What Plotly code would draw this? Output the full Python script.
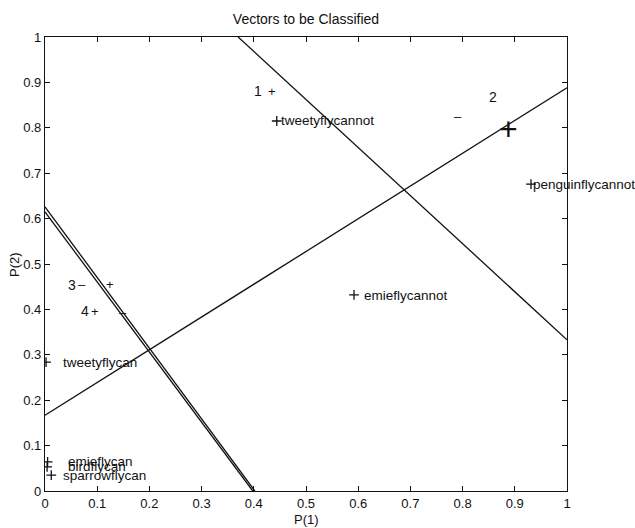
import plotly.graph_objects as go

# Training vectors (P(1), P(2)) and their names
names = ["tweetyflycannot", "penguinflycannot", "emieflycannot", "tweetyflycan",
         "emieflycan", "birdflycan", "sparrowflycan"]
pt_x = [0.444, 0.931, 0.592, 0.002, 0.005, 0.004, 0.012]
pt_y = [0.815, 0.676, 0.432, 0.284, 0.064, 0.053, 0.035]
# where each name is written
lab_x = [0.450, 0.933, 0.609, 0.033, 0.042, 0.042, 0.033]
lab_y = [0.815, 0.676, 0.430, 0.284, 0.064, 0.053, 0.035]

# Decision boundaries: endpoints of each line
bound_x = [[0.37, 1.0], [0.0, 1.0], [0.0, 0.402], [0.0, 0.398]]
bound_y = [[1.0, 0.333], [0.167, 0.888], [0.626, 0.0], [0.615, 0.0]]

# Boundary numbers and side signs
mark_text = ["1", "+", "2", "\u2013", "+", "3", "\u2013", "+", "4", "+", "\u2013"]
mark_x = [0.408, 0.435, 0.858, 0.791, 0.887, 0.052, 0.071, 0.125, 0.077, 0.096, 0.149]
mark_y = [0.881, 0.881, 0.868, 0.824, 0.797, 0.454, 0.454, 0.454, 0.396, 0.396, 0.394]
mark_size = [14, 13, 14, 13, 32, 14, 13, 13, 14, 13, 13]

ticks = [i / 10 for i in range(11)]
tick_text = ["0", "0.1", "0.2", "0.3", "0.4", "0.5", "0.6", "0.7", "0.8", "0.9", "1"]

FONT = "Liberation Sans, Arial, sans-serif"
INK = "#111111"

fig = go.Figure()

for bx, by in zip(bound_x, bound_y):
    fig.add_trace(go.Scatter(x=bx, y=by, mode="lines",
                             line=dict(color=INK, width=1.3),
                             hoverinfo="skip", showlegend=False))

fig.add_trace(go.Scatter(x=pt_x, y=pt_y, mode="markers",
                         marker=dict(symbol="cross-thin", size=7,
                                     line=dict(color=INK, width=1.3)),
                         text=names, showlegend=False))

annotations = []
for t, x, y in zip(names, lab_x, lab_y):
    annotations.append(dict(x=x, y=y, xref="x", yref="y", text=t, showarrow=False,
                            xanchor="left", yanchor="middle", borderpad=0,
                            font=dict(family=FONT, size=13.5, color=INK)))
for t, x, y, s in zip(mark_text, mark_x, mark_y, mark_size):
    annotations.append(dict(x=x, y=y, xref="x", yref="y", text=t, showarrow=False,
                            xanchor="center", yanchor="middle", borderpad=0,
                            font=dict(family=FONT, size=s, color=INK)))

# axis titles
annotations.append(dict(x=0.5, y=-0.0617, xref="paper", yref="paper", text="P(1)",
                        showarrow=False, xanchor="center", yanchor="middle",
                        font=dict(family=FONT, size=13, color=INK)))
annotations.append(dict(x=-0.0594, y=0.5, xref="paper", yref="paper", text="P(2)",
                        showarrow=False, xanchor="center", yanchor="middle",
                        textangle=-90, font=dict(family=FONT, size=13, color=INK)))

axis_common = dict(range=[0, 1], tickvals=ticks, ticktext=tick_text,
                   showline=True, linecolor=INK, linewidth=1.3, mirror="ticks",
                   ticks="inside", ticklen=5, tickcolor=INK, tickwidth=1,
                   showgrid=False, zeroline=False,
                   tickfont=dict(family=FONT, size=13, color=INK))

fig.update_layout(
    width=635, height=528,
    margin=dict(l=45, r=68, t=37, b=37),
    paper_bgcolor="white", plot_bgcolor="white",
    title=dict(text="Vectors to be Classified", x=0.5, xref="paper",
               y=1 - 19 / 528, yref="container", xanchor="center", yanchor="middle",
               font=dict(family=FONT, size=14, color=INK)),
    xaxis=dict(**axis_common),
    yaxis=dict(**axis_common),
    annotations=annotations,
    showlegend=False,
)

fig.write_html("out.html")
